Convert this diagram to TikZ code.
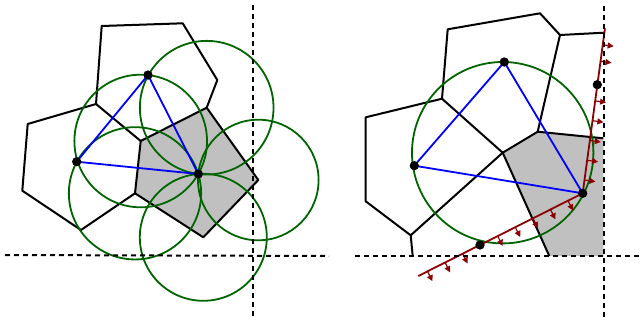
\documentclass[tikz,border=0pt]{standalone}
\usetikzlibrary{calc,arrows.meta}
\definecolor{vgreen}{RGB}{0,100,0}
\definecolor{dred}{RGB}{139,0,0}
\definecolor{cellgray}{RGB}{192,192,192}
\begin{document}
\begin{tikzpicture}[x=1pt,y=-1pt,
  cell/.style={line width=2pt,black,line join=round},
  shaded/.style={fill=cellgray},
  guide/.style={line width=2pt,black,dash pattern=on 5pt off 4pt},
  circ/.style={line width=1.8pt,vgreen},
  tri/.style={line width=1.8pt,blue},
  site/.style={circle,fill=black,inner sep=0pt,minimum size=9pt},
  half/.style={line width=1.8pt,dred},
  normal/.style={line width=1.2pt,dred,-{Triangle[length=6pt,width=6pt]}}]
\useasboundingbox (0,0) rectangle (641,327);
% ---------------- left panel ----------------
\coordinate (la) at (101.7,26);
\coordinate (lb) at (182.7,23.3);
\coordinate (lc) at (217.3,80);
\coordinate (v1) at (206.7,107.7);
\coordinate (v0) at (140.7,141);
\coordinate (lu) at (96,104);
\coordinate (ld) at (27.7,124);
\coordinate (le) at (22.3,190.7);
\coordinate (lf) at (81,230);
\coordinate (v4) at (135,193.3);
\coordinate (v2) at (258.3,180);
\coordinate (v3) at (203.3,237.3);
\path[shaded] (v0) -- (v1) -- (v2) -- (v3) -- (v4) -- cycle;
\draw[cell] (v0) -- (v1) -- (v2) -- (v3) -- (v4) -- cycle;
\draw[cell] (lu) -- (la) -- (lb) -- (lc) -- (v1);
\draw[cell] (lu) -- (v0);
\draw[cell] (lu) -- (ld) -- (le) -- (lf) -- (v4);
\node[site] (p1) at (148,75) {};
\node[site] (p2) at (76.7,161.7) {};
\node[site] (p3) at (198.3,174) {};
\foreach \v in {v0,v1,v2,v3,v4}
  \draw[circ] let \p1=($(\v)-(p3.center)$), \n1={veclen(\x1,\y1)} in (\v) circle[radius=\n1];
\draw[tri] (p1.center) -- (p2.center) -- (p3.center) -- cycle;
\node[site] at (p1) {};
\node[site] at (p2) {};
\node[site] at (p3) {};
\coordinate (lh1) at (5,255);
\coordinate (lh2) at (329,256);
\coordinate (lv1) at (253.3,5);
\coordinate (lv2) at (253.3,319);
\draw[guide] (lh1) -- (lh2);
\draw[guide] (lv1) -- (lv2);
% ---------------- right panel ----------------
\coordinate (ra) at (447.7,29.3);
\coordinate (rb) at (540,13.3);
\coordinate (rc) at (560,35);
\coordinate (rd) at (604,32.7);
\coordinate (rw) at (537.7,131.7);
\coordinate (rx) at (603.3,138.3);
\coordinate (rv) at (502.7,152.7);
\coordinate (ru) at (442,98.7);
\coordinate (rl1) at (365.7,117.3);
\coordinate (rl2) at (365.7,201.3);
\coordinate (rl3) at (410.7,235.3);
\coordinate (rl4) at (412.7,256);
\coordinate (rcorner) at (603.3,256);
\coordinate (rbot) at (549.3,256);
\path[shaded] (rv) -- (rw) -- (rx) -- (rcorner) -- (rbot) -- cycle;
\draw[cell] (rv) -- (rw) -- (rx);
\draw[cell] (rv) -- (rbot);
\draw[cell] (ru) -- (ra) -- (rb) -- (rc) -- (rd);
\draw[cell] (rc) -- (rw);
\draw[cell] (ru) -- (rv);
\draw[cell] (ru) -- (rl1) -- (rl2) -- (rl3) -- (rl4);
\draw[cell] (rl3) -- (rv);
\node[site] (q1) at (504.3,62) {};
\node[site] (q2) at (414.3,165.7) {};
\node[site] (q3) at (582.7,193.3) {};
\node[site] (q4) at (480,245) {};
\node[site] (q5) at (597.3,84.7) {};
\draw[circ] let \p1=($(rv)-(q1.center)$), \n1={veclen(\x1,\y1)} in (rv) circle[radius=\n1];
\draw[tri] (q1.center) -- (q2.center) -- (q3.center) -- cycle;
\coordinate (hs1) at (418.3,276);
\coordinate (hs2) at (605,28.3);
\draw[half] (hs1) -- (q3.center) -- (hs2);
\foreach \t in {0.056,0.163,0.27,0.483,0.59,0.697,0.804,0.911}
  \draw[normal] ($(hs1)!\t!(q3.center)$) coordinate (b) -- ($(b)!11pt!-90:(q3.center)$);
\foreach \t in {0.08,0.2,0.32,0.44,0.56,0.80,0.90}
  \draw[normal] ($(q3.center)!\t!(hs2)$) coordinate (b) -- ($(b)!11pt!-90:(hs2)$);
\node[site] at (q1) {};
\node[site] at (q2) {};
\node[site] at (q3) {};
\node[site] at (q4) {};
\node[site] at (q5) {};
\coordinate (rh1) at (355,256);
\coordinate (rh2) at (641,256);
\coordinate (rv1) at (604,6);
\coordinate (rv2) at (604,320);
\draw[guide] (rh1) -- (rh2);
\draw[guide] (rv1) -- (rv2);
\end{tikzpicture}
\end{document}
